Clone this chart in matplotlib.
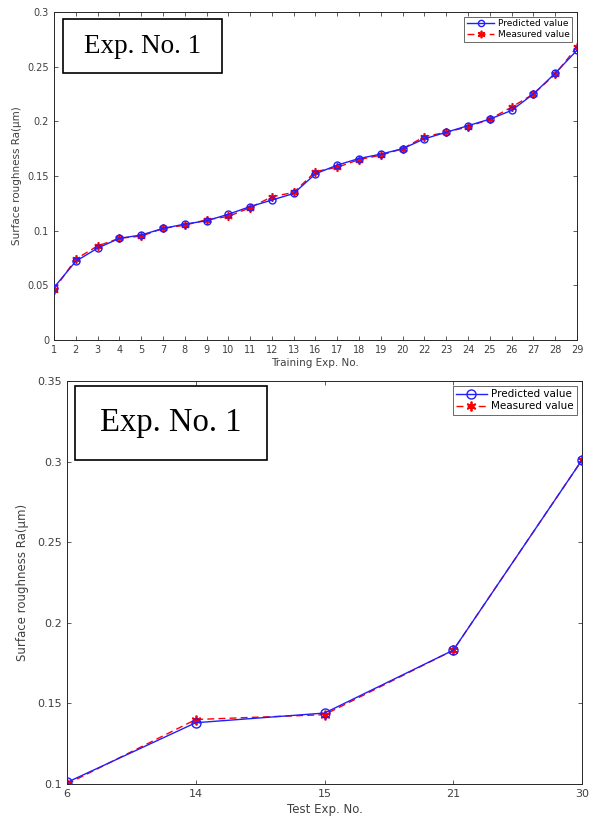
import matplotlib
matplotlib.use("Agg")
import matplotlib.pyplot as plt
from matplotlib.patches import Rectangle

train_labels = ["1", "2", "3", "4", "5", "7", "8", "9", "10", "11", "12", "13", "16",
                "17", "18", "19", "20", "22", "23", "24", "25", "26", "27", "28", "29"]
train_pred = [0.048, 0.072, 0.084, 0.093, 0.096, 0.102, 0.106, 0.109, 0.115, 0.122, 0.128,
              0.134, 0.152, 0.160, 0.166, 0.170, 0.175, 0.184, 0.190, 0.196, 0.202, 0.210,
              0.225, 0.244, 0.265]
train_meas = [0.046, 0.074, 0.086, 0.093, 0.095, 0.102, 0.105, 0.110, 0.113, 0.121, 0.131,
              0.135, 0.154, 0.158, 0.165, 0.169, 0.175, 0.186, 0.190, 0.195, 0.202, 0.213,
              0.225, 0.243, 0.268]

test_labels = ["6", "14", "15", "21", "30"]
test_pred = [0.101, 0.138, 0.144, 0.183, 0.301]
test_meas = [0.100, 0.140, 0.143, 0.183, 0.301]

fig = plt.figure(figsize=(5.9, 8.23), dpi=100)
tick_color = "#404040"
asterisk = (6, 2, 0)

def style(ax, fs):
    ax.tick_params(direction="in", top=True, right=True, labelsize=fs, colors=tick_color,
                   length=3, width=0.6)
    for s in ax.spines.values():
        s.set_color("#262626")
        s.set_linewidth(0.7)

# Top plot
ax1 = fig.add_axes([0.0915, 0.5869, 0.8864, 0.3985])
x1 = list(range(len(train_labels)))
ax1.plot(x1, train_pred, color="#1f1fff", marker="o", mfc="none", ms=5, lw=1.0,
         label="Predicted value", zorder=3)
ax1.plot(x1, train_meas, color="red", marker=asterisk, ls="--", ms=6, mew=1.2, lw=1.0,
         label="Measured value", zorder=2, dashes=(5, 3))
ax1.set_xlim(0, len(train_labels) - 1)
ax1.set_ylim(0, 0.3)
ax1.set_xticks(x1)
ax1.set_xticklabels(train_labels)
ax1.set_yticks([0, 0.05, 0.1, 0.15, 0.2, 0.25, 0.3])
ax1.set_yticklabels(["0", "0.05", "0.1", "0.15", "0.2", "0.25", "0.3"])
style(ax1, 7)
ax1.set_xlabel("Training Exp. No.", fontsize=7.5, color=tick_color, labelpad=2)
ax1.set_ylabel("Surface roughness Ra(μm)", fontsize=7.5, color=tick_color, labelpad=4)
leg1 = ax1.legend(loc="upper right", fontsize=6.5, fancybox=False, edgecolor="#262626",
                  handlelength=3, borderpad=0.3, labelspacing=0.2, handletextpad=0.4,
                  borderaxespad=0.5, markerscale=0.9)
leg1.get_frame().set_linewidth(0.6)

# Bottom plot
ax2 = fig.add_axes([0.1136, 0.0474, 0.8729, 0.4897])
x2 = list(range(len(test_labels)))
ax2.plot(x2, test_pred, color="#1f1fff", marker="o", mfc="none", ms=6.5, lw=1.0,
         label="Predicted value", zorder=3)
ax2.plot(x2, test_meas, color="red", marker=asterisk, ls="--", ms=7, mew=1.3, lw=1.0,
         label="Measured value", zorder=2, dashes=(5, 3))
ax2.set_xlim(0, len(test_labels) - 1)
ax2.set_ylim(0.1, 0.35)
ax2.set_xticks(x2)
ax2.set_xticklabels(test_labels)
ax2.set_yticks([0.1, 0.15, 0.2, 0.25, 0.3, 0.35])
ax2.set_yticklabels(["0.1", "0.15", "0.2", "0.25", "0.3", "0.35"])
style(ax2, 8)
ax2.set_xlabel("Test Exp. No.", fontsize=8.5, color=tick_color, labelpad=3)
ax2.set_ylabel("Surface roughness Ra(μm)", fontsize=8.5, color=tick_color, labelpad=6)
leg2 = ax2.legend(loc="upper right", fontsize=7.5, fancybox=False, edgecolor="#262626",
                  handlelength=3, borderpad=0.3, labelspacing=0.2, handletextpad=0.4,
                  borderaxespad=0.5)
leg2.get_frame().set_linewidth(0.6)

# Annotation boxes
fig.patches.append(Rectangle((0.1068, 0.9113), 0.2695, 0.0656, transform=fig.transFigure,
                             fill=True, facecolor="white", edgecolor="black", lw=1.2, zorder=5))
fig.text(0.2415, 0.9441, "Exp. No. 1", family="Liberation Serif", fontsize=19.5,
         ha="center", va="center", zorder=6)
fig.patches.append(Rectangle((0.1271, 0.4411), 0.3254, 0.0899, transform=fig.transFigure,
                             fill=True, facecolor="white", edgecolor="black", lw=1.2, zorder=5))
fig.text(0.2898, 0.486, "Exp. No. 1", family="Liberation Serif", fontsize=23.5,
         ha="center", va="center", zorder=6)

fig.savefig("out.png", dpi=100)
